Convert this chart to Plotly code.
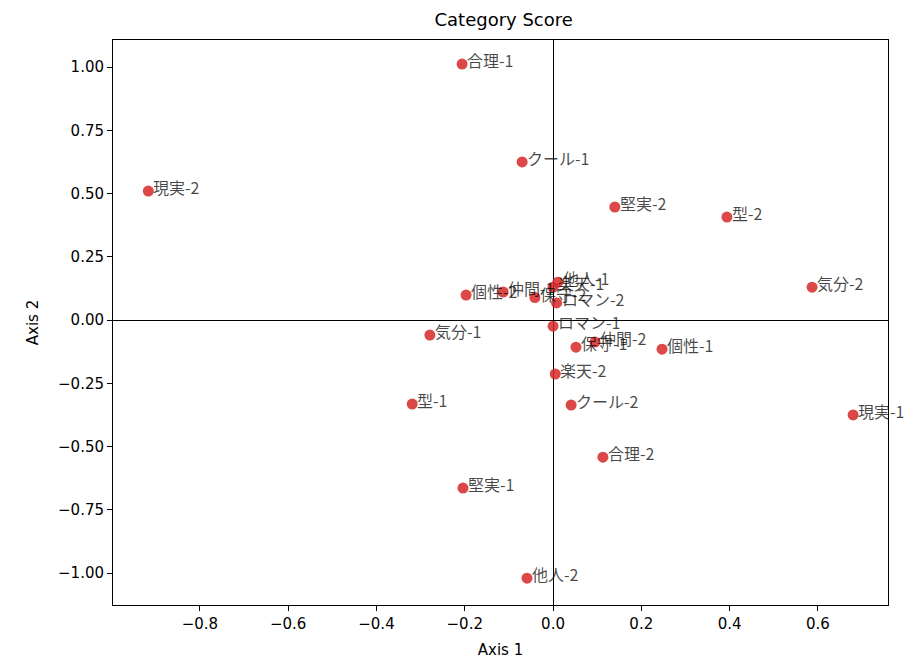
import plotly.graph_objects as go

labels = ['合理-1', 'クール-1', '現実-2', '堅実-2', '型-2', '気分-2',
          '個性-2', '仲間-1', '保守-2', '他人-1', '楽天-1', 'ロマン-2',
          'ロマン-1', '気分-1', '保守-1', '仲間-2', '個性-1', '楽天-2',
          'クール-2', '型-1', '現実-1', '合理-2', '堅実-1', '他人-2']
axis1 = [-0.206, -0.070, -0.917, 0.140, 0.394, 0.587,
         -0.197, -0.113, -0.041, 0.011, 0.000, 0.008,
         0.000, -0.279, 0.052, 0.095, 0.247, 0.005,
         0.041, -0.319, 0.680, 0.113, -0.204, -0.059]
axis2 = [1.012, 0.625, 0.510, 0.447, 0.407, 0.130,
         0.099, 0.111, 0.089, 0.150, 0.130, 0.068,
         -0.024, -0.059, -0.107, -0.087, -0.115, -0.213,
         -0.336, -0.332, -0.375, -0.542, -0.664, -1.020]

fig = go.Figure()
fig.add_trace(go.Scatter(
    x=axis1, y=axis2, mode='markers',
    marker=dict(color='rgba(214,39,40,0.85)', size=11, line=dict(width=0)),
    cliponaxis=False, showlegend=False))

# labels like matplotlib annotate: just right of the point, a bit above
for name, px_, py_ in zip(labels, axis1, axis2):
    fig.add_annotation(x=px_, y=py_, text=name, showarrow=False,
                       xanchor='left', yanchor='middle', xshift=3, yshift=4,
                       font=dict(family='Noto Sans CJK JP', size=16, color='rgba(0,0,0,0.72)'))

axis_style = dict(
    showgrid=False, zeroline=True, zerolinecolor='black', zerolinewidth=0.8,
    showline=True, linecolor='black', linewidth=1, mirror=True,
    ticks='outside', ticklen=5, tickcolor='black',
    tickfont=dict(family='DejaVu Sans', size=15, color='black'),
)

# page body has an 8px margin, so the margins are shifted to compensate
fig.update_layout(
    width=923, height=669,
    plot_bgcolor='white', paper_bgcolor='white',
    margin=dict(l=105, r=43, t=32, b=72),
    title=dict(text='Category Score', x=0.537, xanchor='center', y=0.982, yanchor='middle',
               font=dict(family='DejaVu Sans', size=18, color='black')),
    font=dict(family='DejaVu Sans', color='black'),
)
fig.update_xaxes(range=[-0.997, 0.759], tickvals=[-0.8, -0.6, -0.4, -0.2, 0, 0.2, 0.4, 0.6],
                 tickformat='.1f', title=dict(text='Axis 1', font=dict(size=15), standoff=12),
                 **axis_style)
fig.update_yaxes(range=[-1.126, 1.107], tickvals=[-1, -0.75, -0.5, -0.25, 0, 0.25, 0.5, 0.75, 1],
                 tickformat='.2f', title=dict(text='Axis 2', font=dict(size=15), standoff=15),
                 **axis_style)

fig.write_html('out.html')
